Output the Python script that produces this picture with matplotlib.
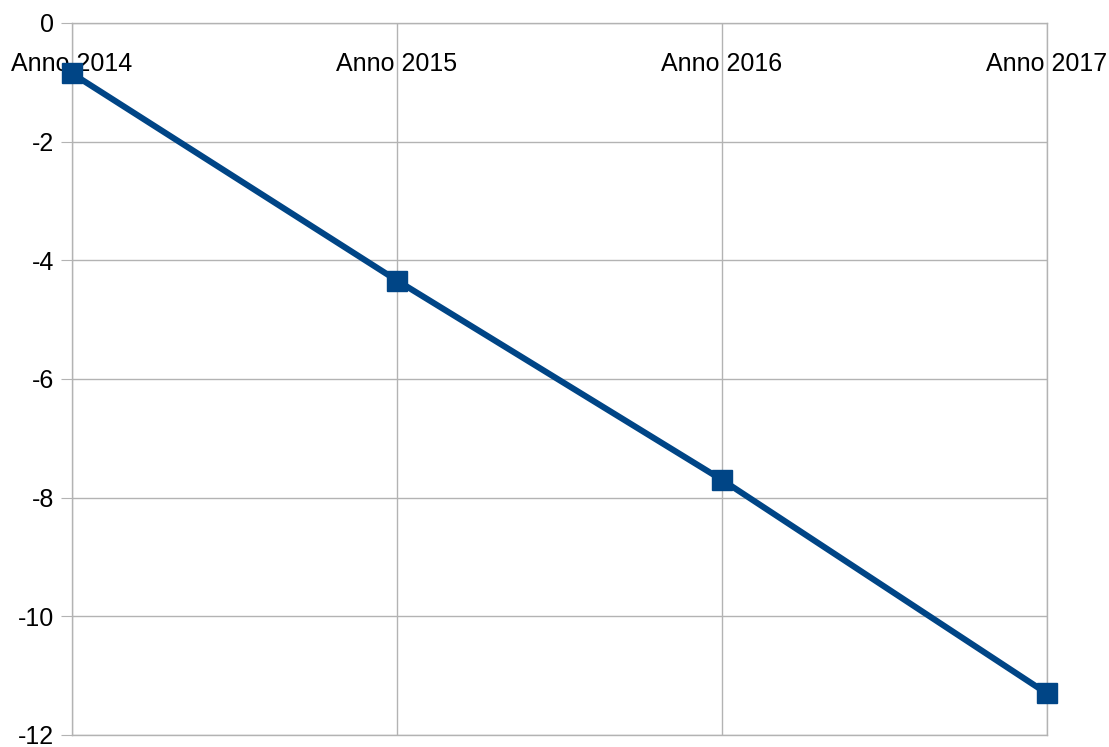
import matplotlib
matplotlib.use("Agg")
import matplotlib.pyplot as plt

categories = ["Anno 2014", "Anno 2015", "Anno 2016", "Anno 2017"]
values = [-0.85, -4.34, -7.70, -11.30]
yticks = [0, -2, -4, -6, -8, -10, -12]

plt.rcParams['font.family'] = ['Liberation Sans', 'DejaVu Sans']

fig = plt.figure(figsize=(11.09, 7.47), dpi=100)
ax = fig.add_axes([72/1109, 12/747, (1047-72)/1109, (735-23)/747])

x = list(range(len(categories)))
ax.plot(x, values, color='#004586', linewidth=4.4, marker='s', markersize=14,
        solid_capstyle='butt', zorder=3, clip_on=False)

ax.set_xlim(0, len(categories) - 1)
ax.set_ylim(-12, 0)
ax.set_yticks(yticks)
ax.set_yticklabels([str(v) for v in yticks])
ax.set_xticks(x)
ax.set_xticklabels(categories)

ax.grid(True, color='#b3b3b3', linewidth=1)
ax.set_axisbelow(True)
for s in ax.spines.values():
    s.set_color('#b3b3b3')
    s.set_linewidth(1)

ax.tick_params(axis='y', direction='out', length=8, color='#b3b3b3', labelsize=18, pad=5)
ax.tick_params(axis='x', top=True, labeltop=True, bottom=False, labelbottom=False,
               length=0, labelsize=18, pad=-38)

fig.savefig('out.png', dpi=100)
